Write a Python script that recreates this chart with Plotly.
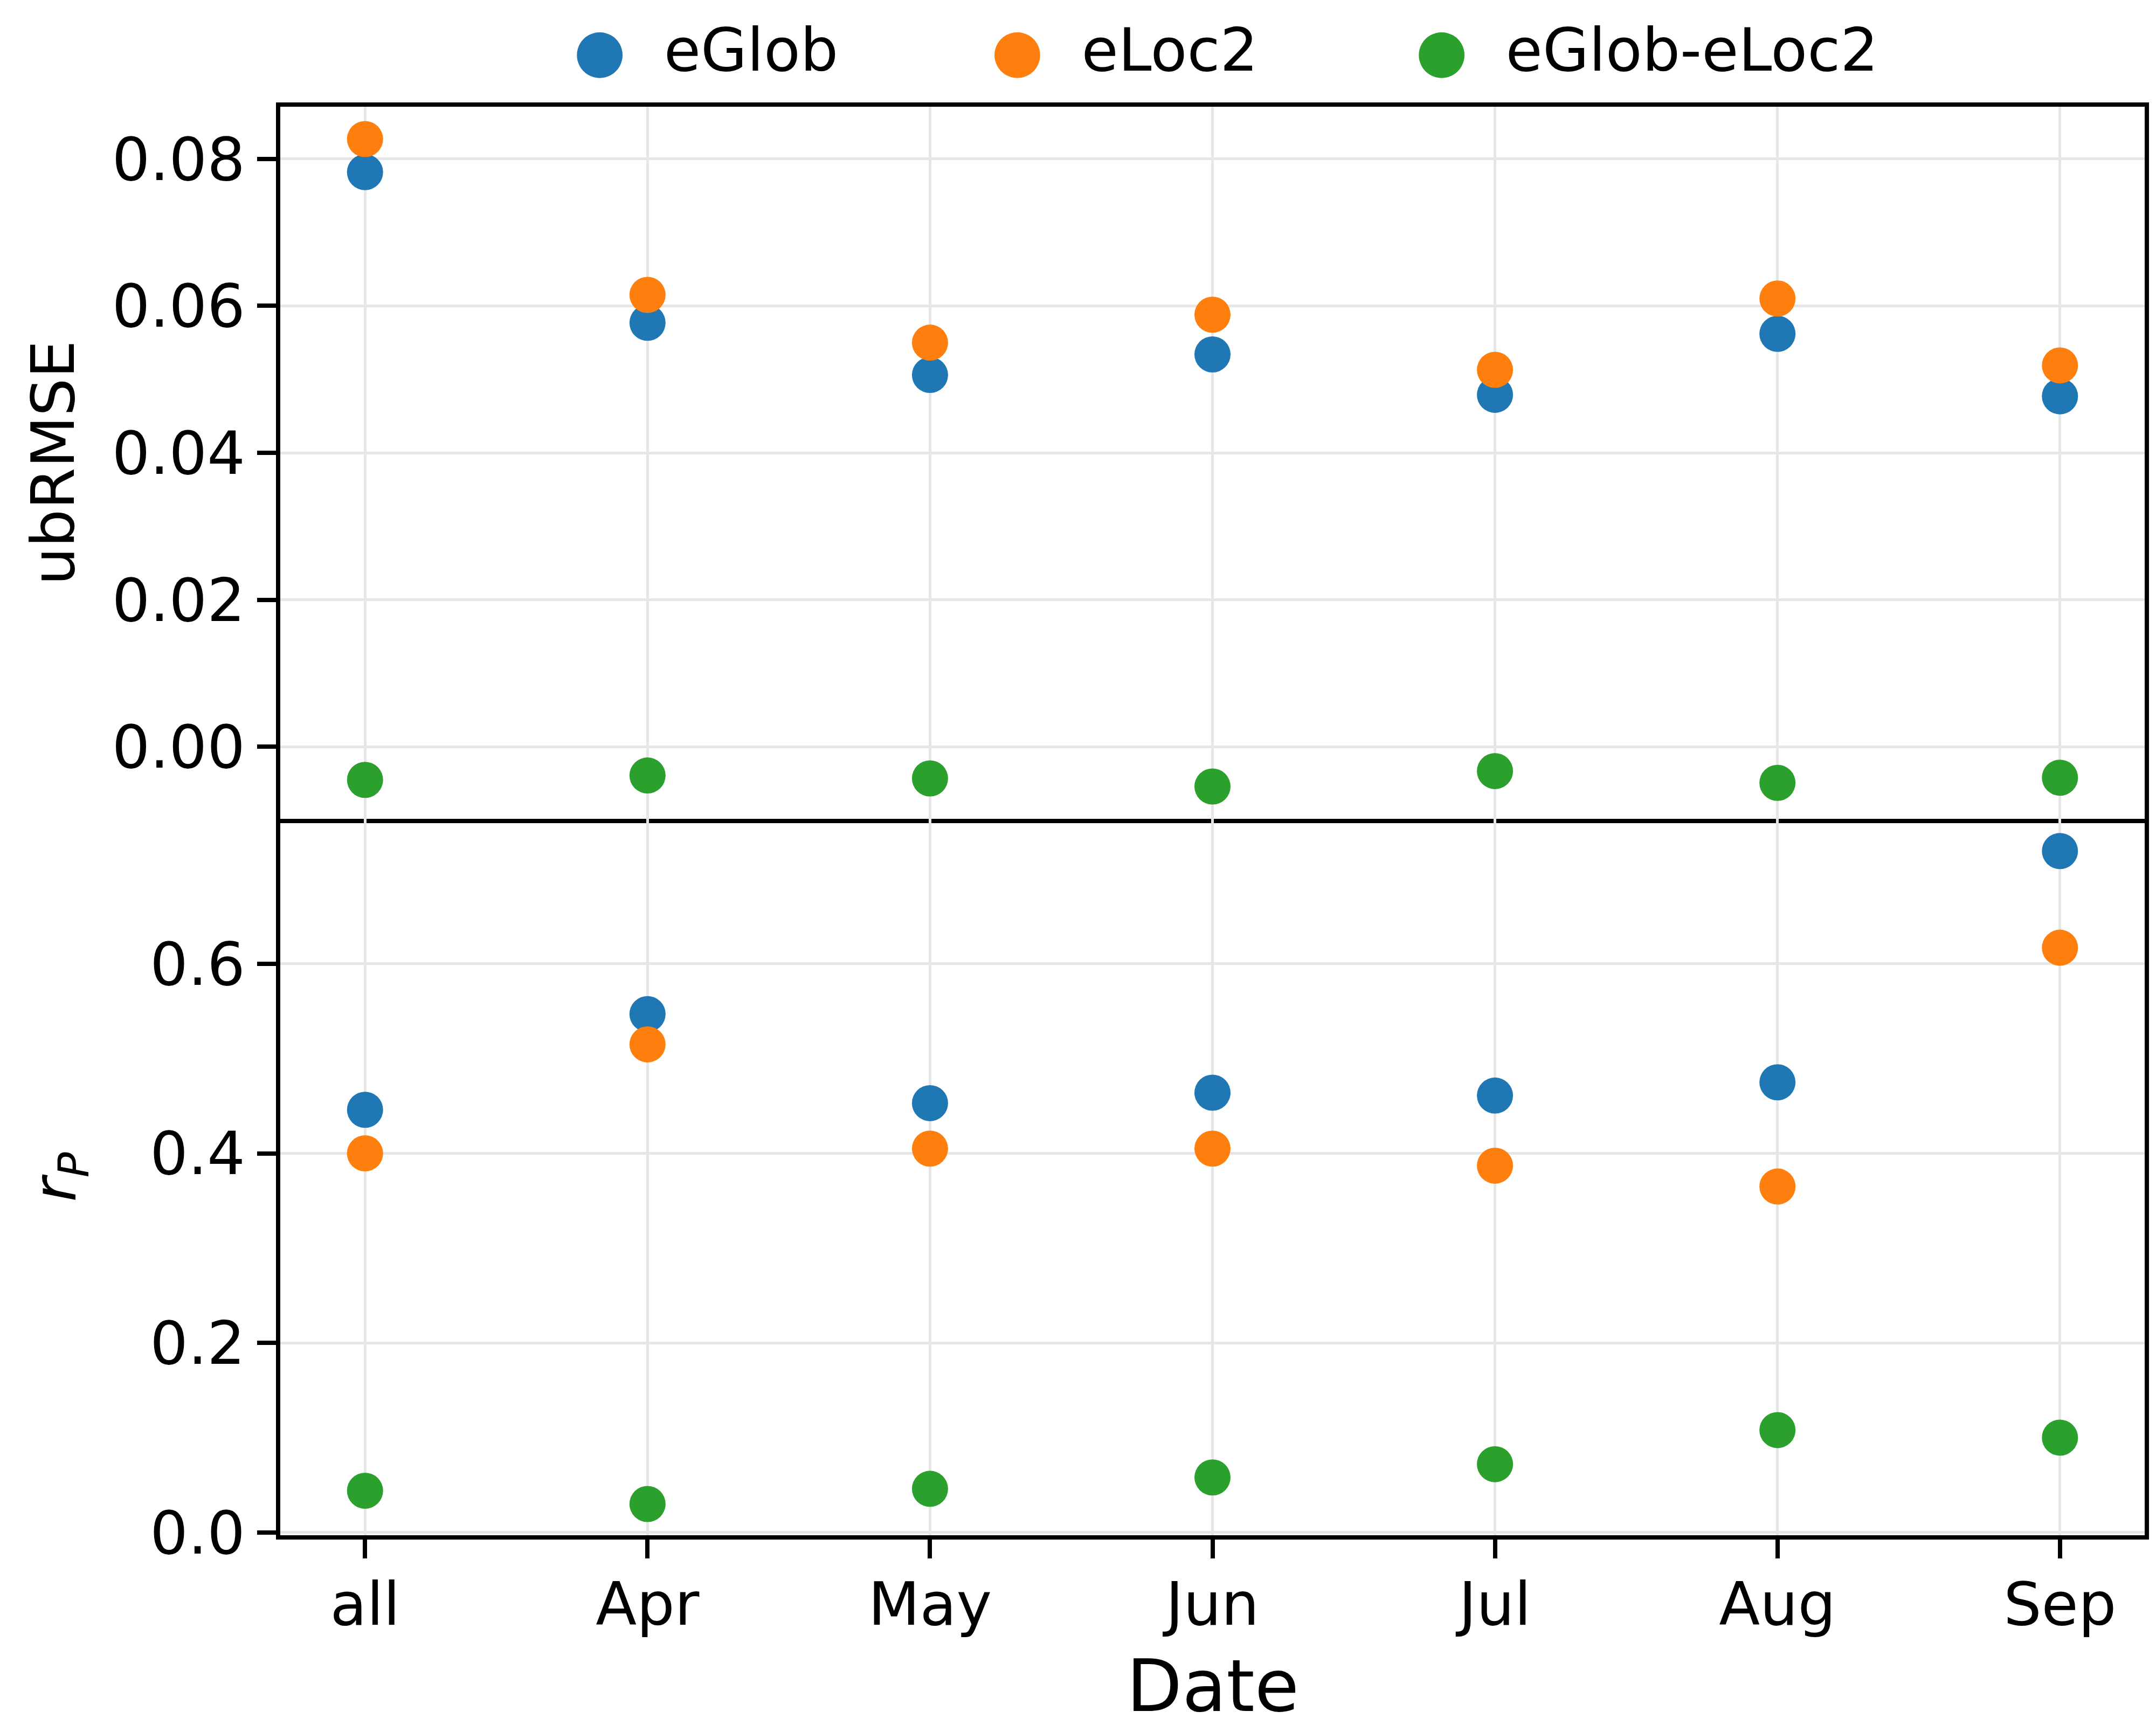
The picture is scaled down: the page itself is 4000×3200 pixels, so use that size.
import plotly.graph_objects as go
from plotly.subplots import make_subplots


# Дані
months = ['all', 'Apr', 'May', 'Jun', 'Jul', 'Aug', 'Sep']

ubrmse_glob = [0.0782, 0.0577, 0.0506, 0.0534, 0.0479, 0.0562, 0.0477]
ubrmse_loc2 = [0.0827, 0.0615, 0.0550, 0.0588, 0.0513, 0.0610, 0.0519]
ubrmse_diff = [-0.0045, -0.0039, -0.0043, -0.0054, -0.0033, -0.0049, -0.0042]

rp_glob = [0.446, 0.547, 0.453, 0.464, 0.461, 0.475, 0.719]
rp_loc2 = [0.400, 0.515, 0.405, 0.405, 0.387, 0.365, 0.617]
rp_diff = [0.044, 0.030, 0.046, 0.058, 0.072, 0.108, 0.100]

names = ['eGlob', 'eLoc2', 'eGlob-eLoc2']
colors = ['#1f77b4', '#ff7f0e', '#2ca02c']

FONT = 'DejaVu Sans'
TICK_SIZE = 111
MARKER_SIZE = 67


fig = make_subplots(rows=2, cols=1, shared_xaxes=True, vertical_spacing=0)

# Точки верхньої та нижньої панелі
for row, series in ((1, (ubrmse_glob, ubrmse_loc2, ubrmse_diff)), (2, (rp_glob, rp_loc2, rp_diff))):
    for values, name, color in zip(series, names, colors):
        fig.add_trace(go.Scatter(x=months, y=values, mode='markers', name=name,
                                 marker=dict(size=MARKER_SIZE, color=color, line=dict(width=0)),
                                 showlegend=False), row=row, col=1)

# Легенда з великими кружками (звичайні символи легенди обмежені 16 px)
pads = ['\u00a0' * 6 + '<span style="font-size:85px">\u00a0</span>',
        '\u00a0' * 7,
        '']
for name, color, pad in zip(names, colors, pads):
    label = ('<span style="font-size:%dpx"><span style="color:%s">\u25CF</span>\u00a0\u00a0%s%s</span>'
             % (TICK_SIZE, color, name, pad))
    fig.add_trace(go.Scatter(x=[None], y=[None], mode='markers',
                             marker=dict(color='rgba(0,0,0,0)', size=2),
                             name=label, showlegend=True), row=1, col=1)


axis_common = dict(showline=True, linecolor='black', linewidth=8, automargin=False,
                   showgrid=True, gridcolor='#e6e6e6', gridwidth=5, zeroline=False,
                   tickfont=dict(family=FONT, size=TICK_SIZE, color='black'),
                   tickcolor='black', ticklen=35, tickwidth=8)

fig.update_layout(
    width=4000, height=3200,
    margin=dict(l=512, r=29, t=190, b=360),
    paper_bgcolor='white', plot_bgcolor='white',
    font=dict(family=FONT, size=TICK_SIZE, color='black'),
    legend=dict(orientation='h', x=0.1458, xanchor='left', y=1.0592, yanchor='top',
                font=dict(family=FONT, size=80, color='black'),
                bgcolor='rgba(0,0,0,0)', borderwidth=0),
    xaxis=dict(axis_common, mirror=True, ticks='', showticklabels=False, range=[-0.3, 6.3]),
    xaxis2=dict(axis_common, mirror=False, ticks='outside', range=[-0.3, 6.3], ticklabelstandoff=-10),
    yaxis=dict(axis_common, mirror=True, ticks='outside', domain=[0.5015, 1],
               range=[-0.0098, 0.0871], dtick=0.02, tick0=0, tickformat='.2f',
               title=dict(text='ubRMSE', font=dict(family=FONT, size=TICK_SIZE, color='black'), standoff=36)),
    yaxis2=dict(axis_common, mirror=True, ticks='outside', domain=[0, 0.5015],
                range=[-0.003, 0.753], dtick=0.2, tick0=0, tickformat='.1f',
                title=dict(text='<i>r</i><sub><i>P</i></sub>',
                           font=dict(family=FONT, size=TICK_SIZE, color='black'), standoff=103)),
)

# Підпис осі X
fig.add_annotation(text='Date', xref='paper', yref='paper', x=0.5, y=-0.1057,
                   xanchor='center', yanchor='middle', showarrow=False,
                   font=dict(family=FONT, size=134, color='black'))

fig.write_html("out.html")
